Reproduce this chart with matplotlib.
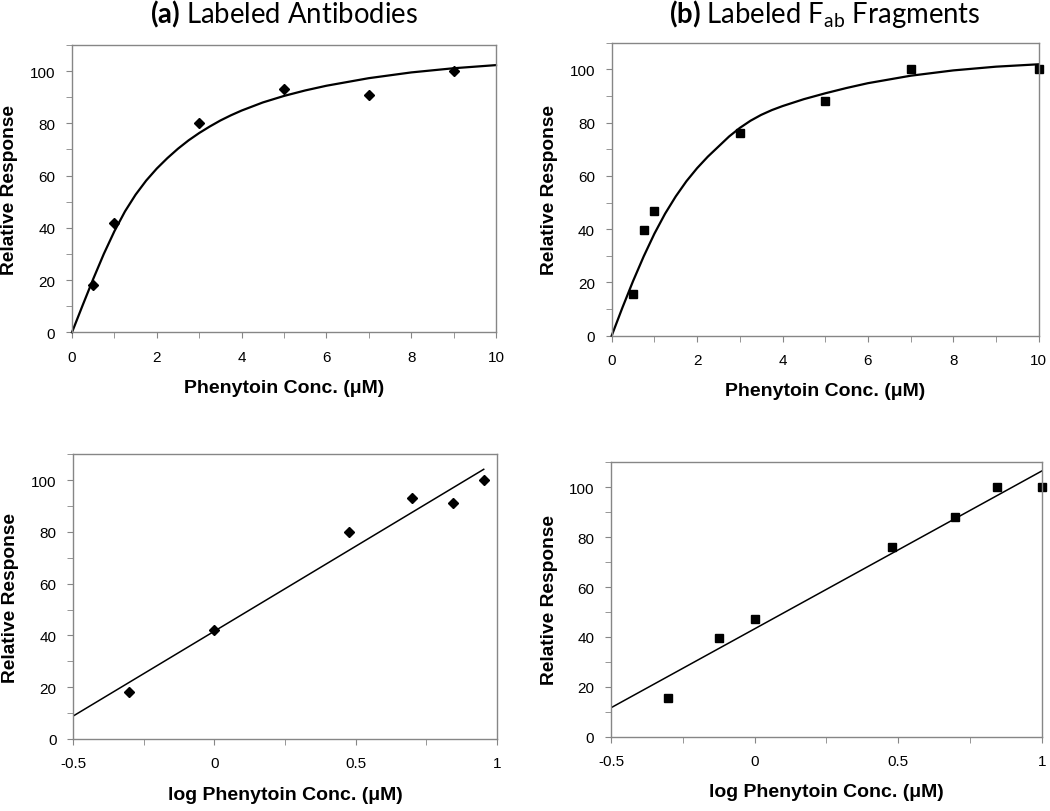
# Phenytoin dose-response, labeled antibodies vs Fab fragments
import numpy as np
import matplotlib
matplotlib.use("Agg")
import matplotlib.pyplot as plt
from matplotlib.ticker import MultipleLocator

plt.rcParams['font.family'] = ['Liberation Sans', 'DejaVu Sans']
plt.rcParams['mathtext.fontset'] = 'custom'
plt.rcParams['mathtext.rm'] = 'Lato'
plt.rcParams['mathtext.bf'] = 'Lato:bold'

# (a) labeled antibodies
conc_a = [0.5, 1, 3, 5, 7, 9]
resp_a = [18, 42, 80, 93.3, 91, 100]
# fitted curve
curve_a_x = [0, 0.25, 0.5, 0.75, 1, 1.25, 1.5, 1.75, 2, 2.25, 2.5, 2.75, 3,
             3.25, 3.5, 3.75, 4, 4.5, 5, 5.5, 6, 7, 8, 9, 10]
curve_a_y = [0, 10.3, 20.4, 30.0, 38.7, 46.3, 52.7, 58.1, 62.7, 66.7, 70.3, 73.5, 76.3,
             78.8, 81.1, 83.1, 84.9, 88.0, 90.5, 92.6, 94.4, 97.3, 99.5, 101.1, 102.3]
logconc_a = [-0.301, 0, 0.477, 0.699, 0.845, 0.954]
fit_a_x = [-0.5, 0.954]
fit_a_y = [8.9, 104.2]

# (b) labeled Fab fragments
conc_b = [0.5, 0.75, 1, 3, 5, 7, 10]
resp_b = [15.7, 39.5, 47, 76, 88, 100, 100]
curve_b_x = [0, 0.25, 0.5, 0.75, 1, 1.25, 1.5, 1.75, 2, 2.25, 2.5, 2.75, 3,
             3.25, 3.5, 3.75, 4, 4.5, 5, 5.5, 6, 7, 8, 9, 10]
curve_b_y = [0, 10.5, 20.5, 29.8, 38.3, 45.8, 52.3, 58.0, 62.9, 67.2, 71.0, 74.8, 78.0,
             80.7, 82.9, 84.7, 86.2, 88.8, 91.0, 93.0, 94.8, 97.6, 99.6, 101.0, 101.9]
logconc_b = [-0.301, -0.125, 0, 0.477, 0.699, 0.845, 1]
fit_b_x = [-0.5, 1]
fit_b_y = [11.6, 106.5]

W, H = 1050, 812
fig = plt.figure(figsize=(W / 100, H / 100), dpi=100)


def make_ax(l, r, t, b, ylab_x):
    ax = fig.add_axes([l / W, 1 - b / H, (r - l) / W, (b - t) / H])
    for s in ax.spines.values():
        s.set_color('#868686')
        s.set_linewidth(1.0)
    ax.tick_params(which='both', direction='out', color='#868686', length=4,
                   labelsize=11, labelcolor='black')
    ax.tick_params(axis='y', pad=8)
    ax.tick_params(axis='x', pad=8.5)
    ax.set_ylim(0, 110)
    ax.yaxis.set_major_locator(MultipleLocator(20))
    ax.yaxis.set_minor_locator(MultipleLocator(10))
    ax.set_ylabel('Relative Response', fontsize=13.8, fontweight='bold')
    ax.yaxis.set_label_coords(ylab_x / W, 1 - (t + b) / 2 / H, transform=fig.transFigure)
    return ax


ax1 = make_ax(72, 496, 46, 333.3, 18)
ax1.plot(curve_a_x, curve_a_y, color='black', lw=1.6, clip_on=False)
ax1.plot(conc_a, resp_a, 'D', color='black', ms=5.6, clip_on=False)
ax1.set_xlim(0, 10)
ax1.xaxis.set_major_locator(MultipleLocator(2))
ax1.xaxis.set_minor_locator(MultipleLocator(1))
ax1.set_xlabel('Phenytoin Conc. (μM)', fontsize=14, fontweight='bold', labelpad=11)

ax2 = make_ax(611.7, 1038.7, 43.7, 336.7, 558)
ax2.plot(curve_b_x, curve_b_y, color='black', lw=1.6, clip_on=False)
ax2.plot(conc_b, resp_b, 's', color='black', ms=5.7, clip_on=False)
ax2.set_xlim(0, 10)
ax2.xaxis.set_major_locator(MultipleLocator(2))
ax2.xaxis.set_minor_locator(MultipleLocator(1))
ax2.set_xlabel('Phenytoin Conc. (μM)', fontsize=14, fontweight='bold', labelpad=11)

ax3 = make_ax(73.3, 496.7, 455.3, 740, 19)
ax3.plot(fit_a_x, fit_a_y, color='black', lw=1.1)
ax3.plot(logconc_a, resp_a, 'D', color='black', ms=5.6, clip_on=False)
ax3.set_xlim(-0.5, 1)
ax3.set_xlabel('log Phenytoin Conc. (μM)', fontsize=14, fontweight='bold', labelpad=11)

ax4 = make_ax(611, 1041.7, 463.3, 737.7, 558)
ax4.plot(fit_b_x, fit_b_y, color='black', lw=1.1)
ax4.plot(logconc_b, resp_b, 's', color='black', ms=5.7, clip_on=False)
ax4.set_xlim(-0.5, 1)
ax4.set_xlabel('log Phenytoin Conc. (μM)', fontsize=14, fontweight='bold', labelpad=11)

for ax in (ax3, ax4):
    ax.set_xticks([-0.5, 0, 0.5, 1])
    ax.set_xticklabels(['-0.5', '0', '0.5', '1'])
    ax.xaxis.set_minor_locator(MultipleLocator(0.25))

fig.text(284 / W, 1 - 14 / H, r'$\mathbf{(a)}$ Labeled Antibodies',
         family='Lato', fontsize=19.8, ha='center', va='center')
fig.text(825 / W, 1 - 14 / H, r'$\mathbf{(b)}$ Labeled F$_{\mathrm{ab}}$ Fragments',
         family='Lato', fontsize=19.8, ha='center', va='center')

fig.savefig('out.png', dpi=100, facecolor='white')
